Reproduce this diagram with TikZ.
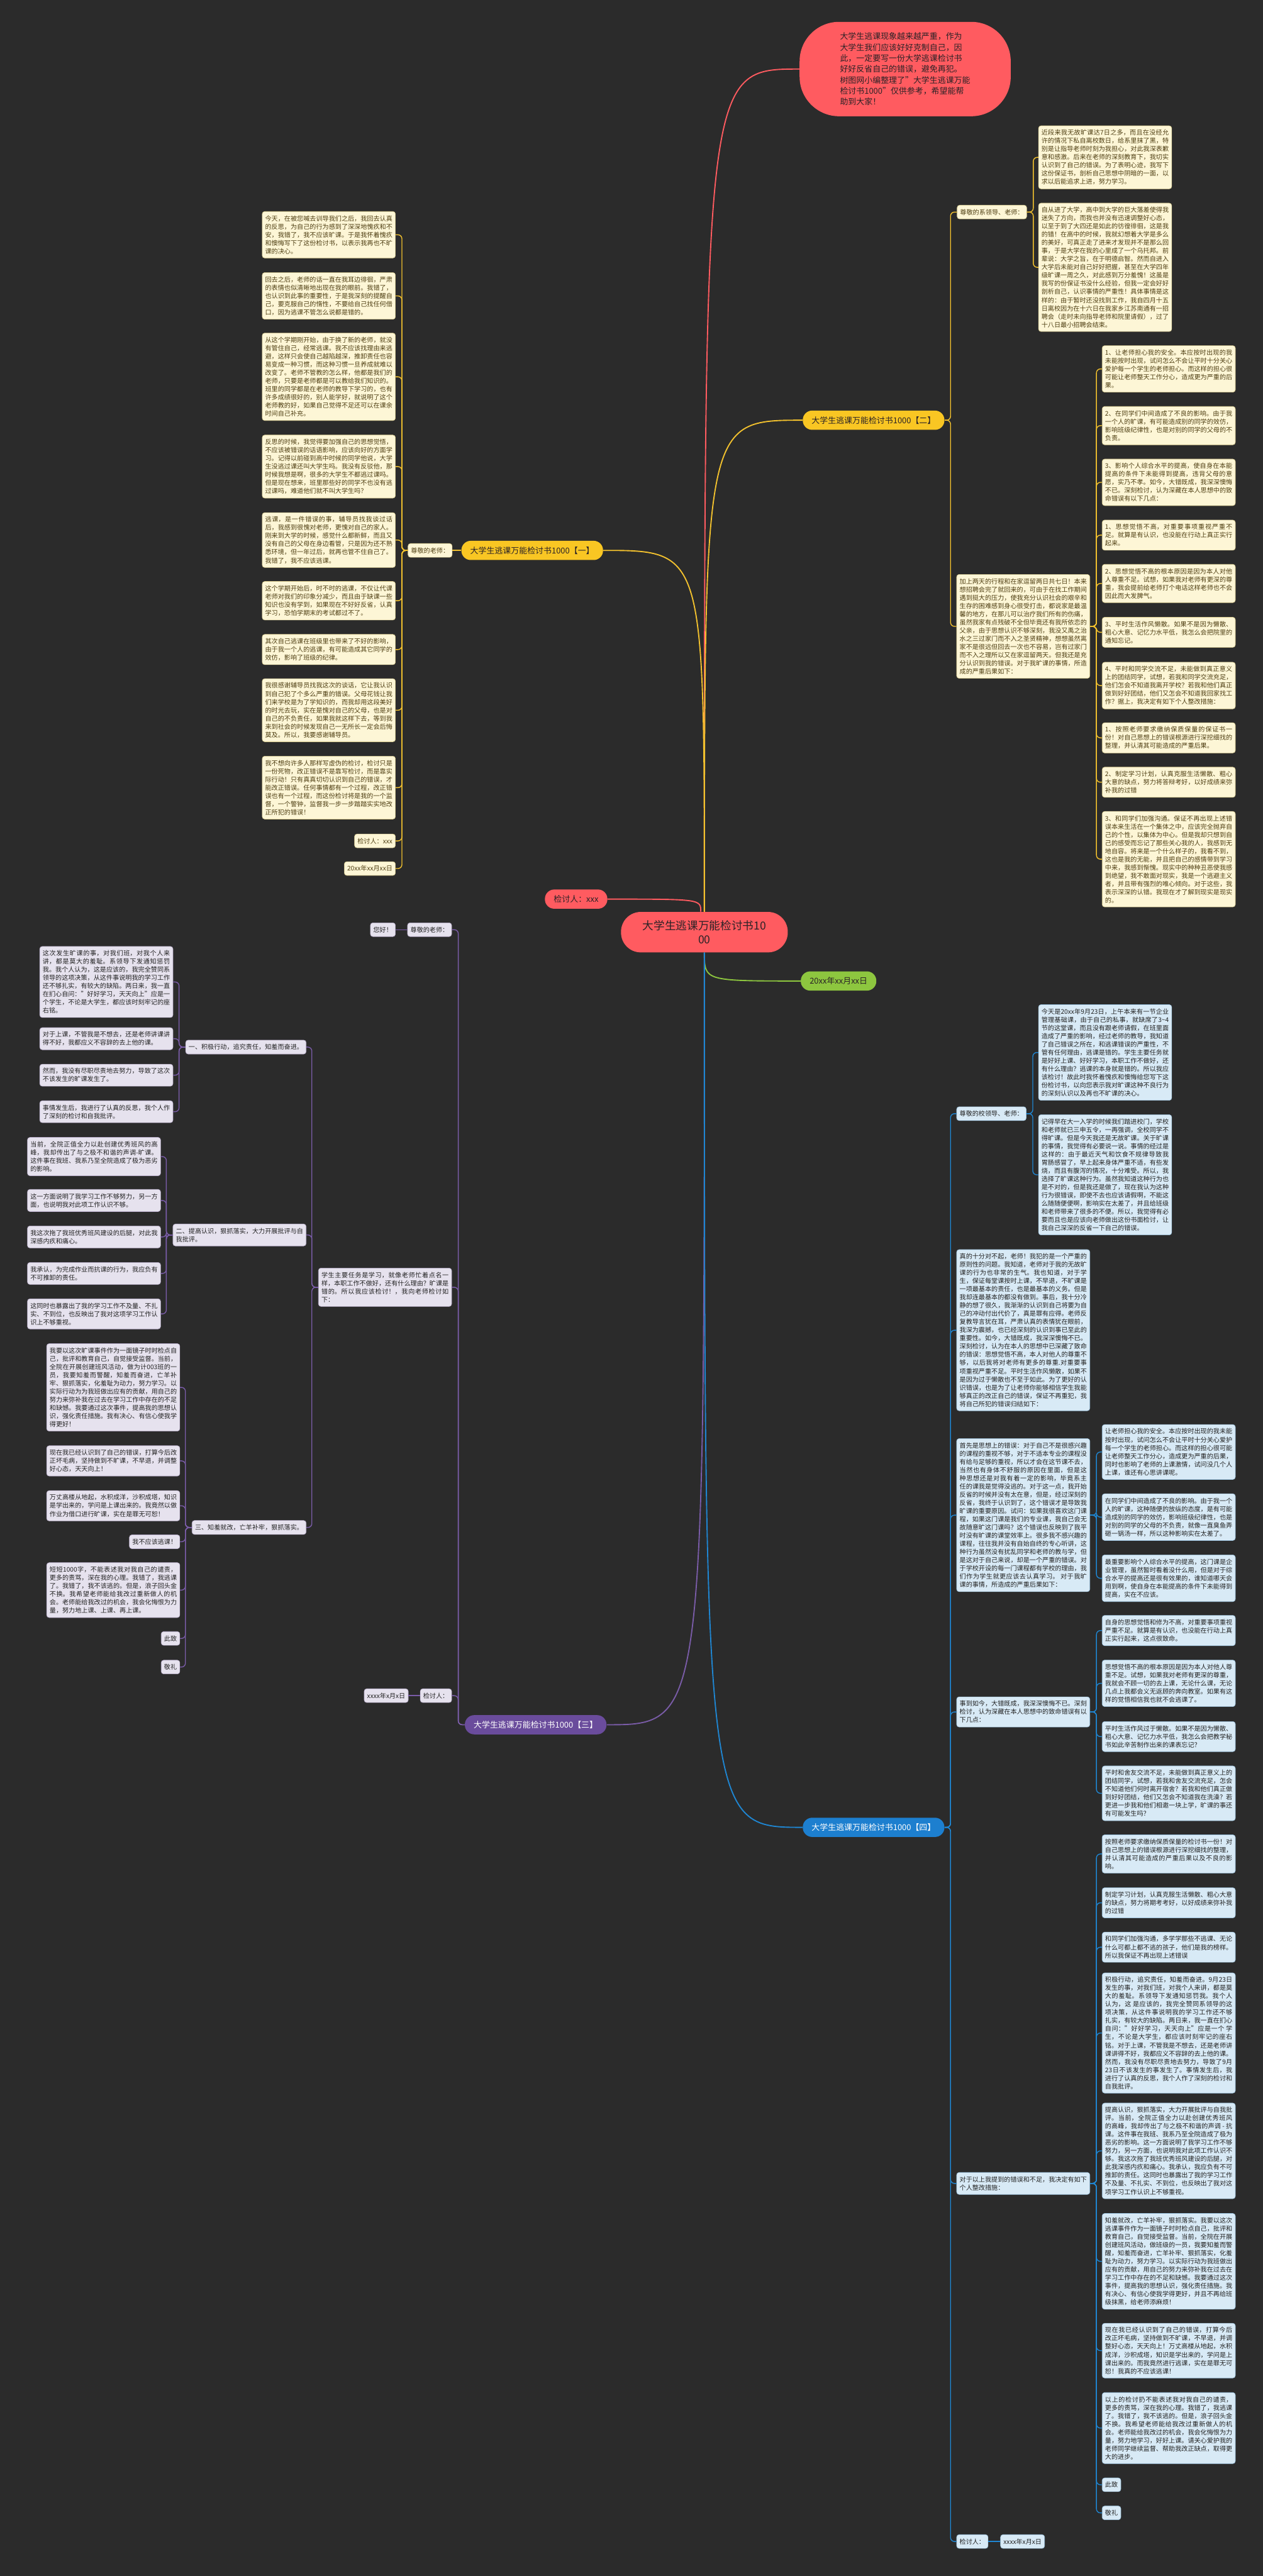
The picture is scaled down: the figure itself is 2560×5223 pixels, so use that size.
\documentclass[tikz,border=0pt]{standalone}
\usepackage{fontspec}
\setmainfont{Noto Sans CJK SC}
\XeTeXlinebreaklocale "zh"
\XeTeXlinebreakskip=0pt plus 1pt
\usetikzlibrary{positioning}

\definecolor{bg}{HTML}{2B2B2B}
\definecolor{darktext}{HTML}{2A2226}
\definecolor{browntext}{HTML}{4E3E12}
\definecolor{greytext}{HTML}{222222}
\definecolor{cream}{HTML}{FDF6D6}
\definecolor{creamedge}{HTML}{D9CB8E}
\definecolor{lav}{HTML}{E6E2EE}
\definecolor{lavedge}{HTML}{B9AECB}
\definecolor{skyb}{HTML}{D8EAF6}
\definecolor{skyedge}{HTML}{9CC3DF}
\definecolor{goldln}{HTML}{F2C12E}
\definecolor{purpln}{HTML}{7A5CA8}
\definecolor{blueln}{HTML}{1F86D2}
\definecolor{redp}{HTML}{FF5B60}
\definecolor{grnp}{HTML}{8DC63F}
\definecolor{yelp}{HTML}{F9C623}
\definecolor{purp}{HTML}{6A4C9C}
\definecolor{bluep}{HTML}{1D7FCF}

\tikzset{
  txt/.style={font=\fontsize{6.45pt}{8.3pt}\selectfont},
  box/.style={txt, rounded corners=2.5pt, inner xsep=3pt, inner ysep=4pt, line width=0.4pt},
  para/.style={box, text width=129pt, align=justify},
  ybox/.style={fill=cream, draw=creamedge, text=browntext},
  pbox/.style={fill=lav, draw=lavedge, text=greytext},
  bbox/.style={fill=skyb, draw=skyedge, text=greytext},
  pill/.style={font=\fontsize{8.25pt}{10pt}\selectfont, rounded corners=9.5pt,
    inner xsep=9pt, inner ysep=0pt, minimum height=19.5pt, text=darktext},
  mainln/.style={line width=1.2pt},
  subln/.style={line width=0.9pt, rounded corners=4pt},
}

\begin{document}
\begin{tikzpicture}[x=0.5pt,y=-0.5pt]
\useasboundingbox (0,0) rectangle (2560,5223);
\fill[bg] (0,0) rectangle (2560,5223);

% centre and first level
\node[fill=redp, text=darktext, rounded corners=20pt, minimum width=169pt, minimum height=41pt,
  align=center, font=\fontsize{11.25pt}{13.5pt}\selectfont] (ctr) at (1428,1890) {大学生逃课万能检讨书10\\00};
\node[fill=redp, text=darktext, rounded corners=40pt, inner xsep=41pt, inner ysep=11pt, text width=132pt,
  align=left, font=\fontsize{8.25pt}{11pt}\selectfont] (intro) at (1835,140)
  {大学生逃课现象越来越严重，作为\\大学生我们应该好好克制自己，因\\此，一定要写一份大学逃课检讨书\\好好反省自己的错误，避免再犯。\\树图网小编整理了"大学生逃课万能\\检讨书1000"仅供参考，希望能帮\\助到大家！};
\node[pill, fill=redp] (sig) at (1168,1823) {检讨人：xxx};
\node[pill, fill=grnp] (day) at (1700,1989) {20xx年xx月xx日};
\node[pill, fill=yelp, anchor=west] (b1) at (935,1116) {大学生逃课万能检讨书1000【一】};
\node[pill, fill=yelp, anchor=east] (b2) at (1915,852) {大学生逃课万能检讨书1000【二】};
\node[pill, fill=purp, text=white, anchor=west] (b3) at (942,3497) {大学生逃课万能检讨书1000【三】};
\node[pill, fill=bluep, text=white, anchor=east] (b4) at (1915,3705) {大学生逃课万能检讨书1000【四】};

\draw[mainln, redp] (ctr.north) .. controls (ctr.north |- intro.west) .. (intro.west);
\draw[mainln, redp] (ctr.100) .. controls (ctr.100 |- sig.east) .. (sig.east);
\draw[mainln, grnp] (ctr.south) .. controls (ctr.south |- day.west) .. (day.west);
\draw[mainln, goldln] (ctr.north) .. controls (ctr.north |- b1.east) .. (b1.east);
\draw[mainln, goldln] (ctr.north) .. controls (ctr.north |- b2.west) .. (b2.west);
\draw[mainln, purpln] (ctr.south) .. controls (ctr.south |- b3.east) .. (b3.east);
\draw[mainln, blueln] (ctr.south) .. controls (ctr.south |- b4.west) .. (b4.west);

% branch one
\node[box, ybox, anchor=east] (oneA) at (917,1116) {尊敬的老师：};
\node[para, ybox, anchor=east] (one1) at (802,476) {今天，在被您喊去训导我们之后，我回去认真的反思，为自己的行为感到了深深地愧疚和不安，我错了，我不应该旷课。于是我怀着愧疚和懊悔写下了这份检讨书，以表示我再也不旷课的决心。};
\node[para, ybox, anchor=east] (one2) at (802,600) {回去之后，老师的话一直在我耳边徘徊，严肃的表情也似清晰地出现在我的眼前。我错了，也认识到此事的重要性，于是我深刻的提醒自己，要克服自己的惰性，不要给自己找任何借口，因为逃课不管怎么说都是错的。};
\node[para, ybox, anchor=east] (one3) at (802,764) {从这个学期刚开始，由于换了新的老师，就没有管住自己，经常逃课。我不应该找理由来逃避，这样只会使自己越陷越深，推卸责任也容易变成一种习惯，而这种习惯一旦养成就难以改变了。老师不管教的怎么样，他都是我们的老师，只要是老师都是可以教给我们知识的。班里的同学都是在老师的教导下学习的，也有许多成绩很好的，别人能学好，就说明了这个老师教的好，如果自己觉得不足还可以在课余时间自己补充。};
\node[para, ybox, anchor=east] (one4) at (802,946) {反思的时候，我觉得要加强自己的思想觉悟，不应该被错误的话语影响，应该向好的方面学习。记得以前碰到高中时候的同学他说，大学生没逃过课还叫大学生吗。我没有反驳他，那时候我想是啊，很多的大学生不都逃过课吗。但是现在想来，班里那些好的同学不也没有逃过课吗，难道他们就不叫大学生吗？};
\node[para, ybox, anchor=east] (one5) at (802,1095) {逃课，是一件错误的事，辅导员找我谈过话后，我感到很愧对老师，更愧对自己的家人。刚来到大学的时候，感觉什么都新鲜，而且又没有自己的父母在身边看管，只是因为还不熟悉环境，但一年过后，就再也管不住自己了。我错了，我不应该逃课。};
\node[para, ybox, anchor=east] (one6) at (802,1218) {这个学期开始后，时不时的逃课，不仅让代课老师对我们的印象分减少，而且由于缺课一些知识也没有学到，如果现在不好好反省，认真学习，恐怕学期末的考试都过不了。};
\node[para, ybox, anchor=east] (one7) at (802,1317) {其次自己逃课在班级里也带来了不好的影响，由于我一个人的逃课，有可能造成其它同学的效仿，影响了班级的纪律。};
\node[para, ybox, anchor=east] (one8) at (802,1440) {我很感谢辅导员找我这次的谈话，它让我认识到自己犯了个多么严重的错误。父母花钱让我们来学校是为了学知识的，而我却用这段美好的时光去玩，实在是愧对自己的父母，也是对自己的不负责任，如果我就这样下去，等到我来到社会的时候发现自己一无所长一定会后悔莫及。所以，我要感谢辅导员。};
\node[para, ybox, anchor=east] (one9) at (802,1597) {我不想向许多人那样写虚伪的检讨，检讨只是一份死物，改正错误不是靠写检讨，而是靠实际行动！只有真真切切认识到自己的错误，才能改正错误。任何事情都有一个过程，改正错误也有一个过程，而这份检讨将是我的一个监督，一个警钟，监督我一步一步踏踏实实地改正所犯的错误！};
\node[box, ybox, anchor=east] (one10) at (802,1705) {检讨人：xxx};
\node[box, ybox, anchor=east] (one11) at (802,1761) {20xx年xx月xx日};
\draw[subln, goldln] (b1.west) -- (oneA.east);
\foreach \i in {1,...,11}
  \draw[subln, goldln] (oneA.west) -- ++(-12,0) |- (one\i.east);

% branch two
\node[box, ybox, anchor=west] (twoA) at (1940,430) {尊敬的系领导、老师：};
\node[para, ybox, anchor=west] (twoA1) at (2105,319) {近段来我无故旷课达7日之多，而且在没经允许的情况下私自离校数日，给系里抹了黑，特别是让指导老师时刻为我担心，对此我深表歉意和感激。后来在老师的深刻教育下，我切实认识到了自己的错误。为了表明心迹，我写下这份保证书，剖析自己思想中阴暗的一面，以求以后能追求上进，努力学习。};
\node[para, ybox, anchor=west] (twoA2) at (2105,542) {自从进了大学，高中到大学的巨大落差使得我迷失了方向，而我也并没有迅速调整好心态，以至于到了大四还是如此的彷徨徘徊，这是我的错！在高中的时候，我就幻想着大学是多么的美好，可真正走了进来才发现并不是那么回事，于是大学在我的心里成了一个乌托邦。前辈说：大学之旨，在于明德启智。然而自进入大学后未能对自己好好把握，甚至在大学四年级旷课一周之久，对此感到万分羞愧！这虽是我写的份保证书没什么经验，但我一定会好好剖析自己，认识事情的严重性！具体事情是这样的：由于暂时还没找到工作，我自四月十五日离校因为在十六日在我家乡江苏南通有一招聘会（走时未向指导老师和院里请假），过了十八日最小招聘会结束。};
\node[para, ybox, anchor=west] (twoB) at (1939,1270) {加上两天的行程和在家逗留两日共七日！本来想招聘会完了就回来的，可由于在找工作期间遇到挺大的压力，使我充分认识社会的艰辛和生存的困难感到身心很受打击，都说家是最温馨的地方，在那儿可以治疗我们所有的伤痛，虽然我家有点残破不全但毕竟还有我所依恋的父亲，由于思想认识不够深刻，我没又禹之治水之三过家门而不入之圣贤精神，想想虽然离家不是很远但回去一次也不容易，岂有过家门而不入之理所以又在家逗留两天。但我还是充分认识到我的错误。对于我旷课的事情，所造成的严重后果如下：};
\node[para, ybox, anchor=west] (twoB1) at (2234,748) {1、让老师担心我的安全。本应按时出现的我未能按时出现，试问怎么不会让平时十分关心爱护每一个学生的老师担心。而这样的担心很可能让老师整天工作分心，造成更为严重的后果。};
\node[para, ybox, anchor=west] (twoB2) at (2234,863) {2、在同学们中间造成了不良的影响。由于我一个人的旷课，有可能造成别的同学的效仿，影响班级纪律性，也是对别的同学的父母的不负责。};
\node[para, ybox, anchor=west] (twoB3) at (2234,978) {3、影响个人综合水平的提高，使自身在本能提高的条件下未能得到提高，违背父母的意愿，实乃不孝。如今，大错既成，我深深懊悔不已。深刻检讨，认为深藏在本人思想中的致命错误有以下几点：};
\node[para, ybox, anchor=west] (twoB4) at (2234,1085) {1、思想觉悟不高，对重要事项重视严重不足。就算是有认识，也没能在行动上真正实行起来。};
\node[para, ybox, anchor=west] (twoB5) at (2234,1183) {2、思想觉悟不高的根本原因是因为本人对他人尊重不足。试想，如果我对老师有更深的尊重，我会提前给老师打个电话这样老师也不会因此而大发脾气。};
\node[para, ybox, anchor=west] (twoB6) at (2234,1282) {3、平时生活作风懒散。如果不是因为懒散、粗心大意、记忆力水平低，我怎么会把院里的通知忘记。};
\node[para, ybox, anchor=west] (twoB7) at (2234,1390) {4、平时和同学交流不足，未能做到真正意义上的团结同学，试想，若我和同学交流充足，他们怎会不知道我离开学校？若我和他们真正做到好好团结，他们又怎会不知道我回家找工作？据上，我决定有如下个人整改措施：};
\node[para, ybox, anchor=west] (twoB8) at (2234,1496) {1、按照老师要求缴纳保质保量的保证书一份！对自己思想上的错误根源进行深挖细找的整理，并认清其可能造成的严重后果。};
\node[para, ybox, anchor=west] (twoB9) at (2234,1586) {2、制定学习计划，认真克服生活懒散、粗心大意的缺点，努力将答辩考好，以好成绩来弥补我的过错};
\node[para, ybox, anchor=west] (twoB10) at (2234,1742) {3、和同学们加强沟通。保证不再出现上述错误本来生活在一个集体之中，应该完全抛弃自己的个性，以集体为中心。但是我却只想到自己的感受而忘记了那些关心我的人，我感到无地自容。将来是一个什么样子的，我看不到，这也是我的无能，并且把自己的感情带到学习中来，我感到惭愧。现实中的种种丑恶使我感到绝望，我不敢面对现实，我是一个逃避主义者，并且带有强烈的唯心倾向。对于这些，我表示深深的认错。我现在才了解到现实是现实的。};
\foreach \c in {twoA,twoB}
  \draw[subln, goldln] (b2.east) -- ++(12,0) |- (\c.west);
\foreach \i in {1,2}
  \draw[subln, goldln] (twoA.east) -- ++(13,0) |- (twoA\i.west);
\foreach \i in {1,...,10}
  \draw[subln, goldln] (twoB.east) -- ++(13,0) |- (twoB\i.west);

% branch three
\node[box, pbox, anchor=east] (thrA) at (916,1885) {尊敬的老师：};
\node[box, pbox, anchor=east] (thrA1) at (802,1885) {您好！};
\node[para, pbox, anchor=east] (thrB) at (916,2610) {学生主要任务是学习，就像老师忙着点名一样，本职工作不做好，还有什么理由？旷课是错的。所以我应该检讨！，我向老师检讨如下：};
\node[box, pbox, anchor=east] (thrB1) at (621,2123) {一、积极行动，追究责任，知羞而奋进。};
\node[para, pbox, anchor=east] (thrB1a) at (351,1991) {这次发生旷课的事，对我们班，对我个人来讲，都是莫大的羞耻。系领导下发通知惩罚我。我个人认为，这是应该的，我完全赞同系领导的这项决策，从这件事说明我的学习工作还不够扎实，有较大的缺陷。两日来，我一直在扪心自问："好好学习，天天向上"应是一个学生，不论是大学生，都应该时刻牢记的座右铭。};
\node[para, pbox, anchor=east] (thrB1b) at (351,2106) {对于上课，不管我是不想去，还是老师讲课讲得不好，我都应义不容辞的去上他的课。};
\node[para, pbox, anchor=east] (thrB1c) at (351,2180) {然而，我没有尽职尽责地去努力，导致了这次不该发生的旷课发生了。};
\node[para, pbox, anchor=east] (thrB1d) at (351,2254) {事情发生后，我进行了认真的反思，我个人作了深刻的检讨和自我批评。};
\node[para, pbox, anchor=east] (thrB2) at (621,2504) {二、提高认识，狠抓落实，大力开展批评与自我批评。};
\node[para, pbox, anchor=east] (thrB2a) at (326,2345) {当前，全院正值全力以赴创建优秀班风的高峰，我却传出了与之极不和谐的声调-旷课。这件事在我班、我系乃至全院造成了极为恶劣的影响。};
\node[para, pbox, anchor=east] (thrB2b) at (326,2434) {这一方面说明了我学习工作不够努力，另一方面，也说明我对此项工作认识不够。};
\node[para, pbox, anchor=east] (thrB2c) at (326,2508) {我这次拖了我班优秀班风建设的后腿，对此我深感内疚和痛心。};
\node[para, pbox, anchor=east] (thrB2d) at (326,2582) {我承认，为完成作业而抗课的行为，我应负有不可推卸的责任。};
\node[para, pbox, anchor=east] (thrB2e) at (326,2664) {这同时也暴露出了我的学习工作不及量、不扎实、不到位，也反映出了我对这项学习工作认识上不够重视。};
\node[box, pbox, anchor=east] (thrB3) at (621,3097) {三、知羞就改，亡羊补牢，狠抓落实。};
\node[para, pbox, anchor=east] (thrB3a) at (365,2813) {我要以这次旷课事件作为一面镜子时时检点自己，批评和教育自己，自觉接受监督。当前，全院在开展创建班风活动，做为计003班的一员，我要知羞而警醒，知羞而奋进，亡羊补牢、狠抓落实，化羞耻为动力，努力学习。以实际行动为为我班做出应有的贡献，用自己的努力来弥补我在过去在学习工作中存在的不足和缺憾。我要通过这次事件，提高我的思想认识，强化责任措施。我有决心、有信心使我学得更好！};
\node[para, pbox, anchor=east] (thrB3b) at (365,2962) {现在我已经认识到了自己的错误，打算今后改正坏毛病，坚持做到不旷课，不早退，并调整好心态，天天向上！};
\node[para, pbox, anchor=east] (thrB3c) at (365,3053) {万丈高楼从地起，水积成洋，沙积成塔，知识是学出来的，学问是上课出来的。我竟然以做作业为借口进行旷课，实在是罪无可恕！};
\node[box, pbox, anchor=east] (thrB3d) at (365,3126) {我不应该逃课！};
\node[para, pbox, anchor=east] (thrB3e) at (365,3224) {短短1000字，不能表述我对我自己的谴责，更多的责骂，深在我的心理。我错了，我逃课了。我错了，我不该逃的。但是，浪子回头金不换。我希望老师能给我改过重新做人的机会。老师能给我改过的机会，我会化悔恨为力量，努力地上课、上课、再上课。};
\node[box, pbox, anchor=east] (thrB3f) at (365,3322) {此致};
\node[box, pbox, anchor=east] (thrB3g) at (365,3380) {敬礼};
\node[box, pbox, anchor=east] (thrC) at (916,3438) {检讨人：};
\node[box, pbox, anchor=east] (thrC1) at (828,3438) {xxxx年x月x日};
\foreach \c in {thrA,thrB,thrC}
  \draw[subln, purpln] (b3.west) -- ++(-13,0) |- (\c.east);
\draw[subln, purpln] (thrA.west) -- (thrA1.east);
\draw[subln, purpln] (thrC.west) -- (thrC1.east);
\foreach \c in {thrB1,thrB2,thrB3}
  \draw[subln, purpln] (thrB.west) -- ++(-13,0) |- (\c.east);
\foreach \c in {a,b,c,d}
  \draw[subln, purpln] (thrB1.west) -- ++(-13,0) |- (thrB1\c.east);
\foreach \c in {a,b,c,d,e}
  \draw[subln, purpln] (thrB2.west) -- ++(-13,0) |- (thrB2\c.east);
\foreach \c in {a,b,c,d,e,f,g}
  \draw[subln, purpln] (thrB3.west) -- ++(-13,0) |- (thrB3\c.east);

% branch four
\node[box, bbox, anchor=west] (fouA) at (1939,2258) {尊敬的校领导、老师：};
\node[para, bbox, anchor=west] (fouA1) at (2105,2134) {今天是20xx年9月23日，上午本来有一节企业管理基础课，由于自己的私事，就缺席了3\textasciitilde4节的这堂课，而且没有跟老师请假，在班里面造成了严重的影响，经过老师的教导，我知道了自己错误之所在，和逃课错误的严重性，不管有任何理由，逃课是错的。学生主要任务就是好好上课、好好学习，本职工作不做好，还有什么理由？逃课的本身就是错的。所以我应该检讨！故此时我怀着愧疚和懊悔给您写下这份检讨书，以向您表示我对旷课这种不良行为的深刻认识以及再也不旷课的决心。};
\node[para, bbox, anchor=west] (fouA2) at (2105,2382) {记得早在大一入学的时候我们踏进校门，学校和老师就已三申五令，一再强调，全校同学不得旷课。但是今天我还是无故旷课。关于旷课的事情，我觉得有必要说一说。事情的经过是这样的：由于最近天气和饮食不规律导致我胃肠感冒了，早上起来身体严重不适，有些发烧，而且有腹泻的情况，十分难受。所以，我选择了旷课这种行为。虽然我知道这种行为也是不对的，但是我还是做了，现在我认为这种行为很错误，即使不去也应该请假啊，不能这么随随便便啊，影响实在太差了，并且给班级和老师带来了很多的不便。所以，我觉得有必要而且也是应该向老师做出这份书面检讨，让我自己深深的反省一下自己的错误。};
\node[para, bbox, anchor=west] (fouB) at (1939,2697) {真的十分对不起，老师！我犯的是一个严重的原则性的问题。我知道，老师对于我的无故旷课的行为也非常的生气。我也知道，对于学生，保证每堂课按时上课，不早退，不旷课是一项最基本的责任，也是最基本的义务。但是我却连最基本的都没有做到。事后，我十分冷静的想了很久，我渐渐的认识到自己将要为自己的冲动付出代价了，真是罪有应得。老师反复教导言犹在耳，严肃认真的表情犹在眼前，我深为震撼，也已经深刻的认识到事已至此的重要性。如今，大错既成，我深深懊悔不已。深刻检讨，认为在本人的思想中已深藏了致命的错误：思想觉悟不高，本人对他人的尊重不够，以后我将对老师有更多的尊重.对重要事项重视严重不足。平时生活作风懒散，如果不是因为过于懒散也不至于如此。为了更好的认识错误，也是为了让老师你能够相信学生我能够真正的改正自己的错误，保证不再重犯，我将自己所犯的错误归结如下：};
\node[para, bbox, anchor=west] (fouC) at (1939,3072) {首先是思想上的错误：对于自己不是很感兴趣的课程的重视不够，对于不适本专业的课程没有给与足够的重视，所以才会在这节课不去，当然也有身体不舒服的原因在里面，但是这种思想还是对我有着一定的影响，毕竟系主任的课我是觉得没逃的。对于这一点，我开始反省的时候并没有太在意，但是，经过深刻的反省，我终于认识到了，这个错误才是导致我旷课的重要原因。试问：如果我很喜欢这门课程，如果这门课是我们的专业课，我自己会无故随意旷这门课吗？这个错误也反映到了我平时没有旷课的课堂效率上。很多我不感兴趣的课程，往往我并没有自始自终的专心听讲，这种行为虽然没有扰乱同学和老师的教与学，但是这对于自己来说，却是一个严重的错误。对于学校开设的每一门课程都有学校的理由，我们作为学生就更应该去认真学习。 对于我旷课的事情，所造成的严重后果如下：};
\node[para, bbox, anchor=west] (fouC1) at (2234,2944) {让老师担心我的安全。本应按时出现的我未能按时出现，试问怎么不会让平时十分关心爱护每一个学生的老师担心。而这样的担心很可能让老师整天工作分心，造成更为严重的后果，同时也影响了老师的上课激情，试问没几个人上课，谁还有心思讲课呢。};
\node[para, bbox, anchor=west] (fouC2) at (2234,3076) {在同学们中间造成了不良的影响。由于我一个人的旷课，这种随便的放纵的态度，是有可能造成别的同学的效仿，影响班级纪律性，也是对别的同学的父母的不负责，就像一直臭鱼弄砸一锅汤一样，所以这种影响实在太差了。};
\node[para, bbox, anchor=west] (fouC3) at (2234,3200) {最重要影响个人综合水平的提高，这门课是企业管理，虽然暂时看着没什么用，但是对于综合水平的提高还是很有效果的，谁知道哪天会用到啊，使自身在本能提高的条件下未能得到提高，实在不应该。};
\node[para, bbox, anchor=west] (fouD) at (1939,3471) {事到如今，大错既成，我深深懊悔不已。深刻检讨，认为深藏在本人思想中的致命错误有以下几点：};
\node[para, bbox, anchor=west] (fouD1) at (2234,3306) {自身的思想觉悟和修为不高，对重要事项重视严重不足。就算是有认识，也没能在行动上真正实行起来，这点很致命。};
\node[para, bbox, anchor=west] (fouD2) at (2234,3413) {思想觉悟不高的根本原因是因为本人对他人尊重不足。试想，如果我对老师有更深的尊重，我就会不顾一切的去上课，无论什么课，无论几点上我都会义无返顾的奔向教室。如果有这样的觉悟相信我也就不会逃课了。};
\node[para, bbox, anchor=west] (fouD3) at (2234,3521) {平时生活作风过于懒散。如果不是因为懒散、粗心大意、记忆力水平低，我怎么会把教学秘书如此辛苦制作出来的课表忘记？};
\node[para, bbox, anchor=west] (fouD4) at (2234,3636) {平时和舍友交流不足，未能做到真正意义上的团结同学，试想，若我和舍友交流充足，怎会不知道他们何时离开宿舍？若我和他们真正做到好好团结，他们又怎会不知道我在洗澡？若更进一步我和他们相邀一块上学，旷课的事还有可能发生吗？};
\node[para, bbox, anchor=west] (fouE) at (1939,4427) {对于以上我提到的错误和不足，我决定有如下个人整改措施：};
\node[para, bbox, anchor=west] (fouE1) at (2234,3759) {按照老师要求缴纳保质保量的检讨书一份！对自己思想上的错误根源进行深挖细找的整理，并认清其可能造成的严重后果以及不良的影响。};
\node[para, bbox, anchor=west] (fouE2) at (2234,3858) {制定学习计划，认真克服生活懒散、粗心大意的缺点，努力将期考考好，以好成绩来弥补我的过错};
\node[para, bbox, anchor=west] (fouE3) at (2234,3948) {和同学们加强沟通，多学学那些不逃课、无论什么可都上都不逃的孩子，他们是我的榜样。所以我保证不再出现上述错误};
\node[para, bbox, anchor=west] (fouE4) at (2234,4122) {积极行动，追究责任，知羞而奋进。9月23日发生的事，对我们班，对我个人来讲，都是莫大的羞耻。系领导下发通知惩罚我。我个人认为，这 是应该的，我完全赞同系领导的这项决策，从这件事说明我的学习工作还不够扎实，有较大的缺陷。两日来，我一直在扪心自问："好好学习，天天向上"应是一个 学生，不论是大学生，都应该时刻牢记的座右铭。对于上课，不管我是不想去，还是老师讲课讲得不好，我都应义不容辞的去上他的课。然而，我没有尽职尽责地去努力，导致了9月23日不该发生的事发生了。事情发生后，我进行了认真的反思，我个人作了深刻的检讨和自我批评。};
\node[para, bbox, anchor=west] (fouE5) at (2234,4361) {提高认识，狠抓落实，大力开展批评与自我批评。当前，全院正值全力以赴创建优秀班风的高峰，我却传出了与之极不和谐的声调 - 抗课。这件事在我班、我系乃至全院造成了极为恶劣的影响。这一方面说明了我学习工作不够努力，另一方面，也说明我对此项工作认识不够。我这次拖了我班优秀班风建设的后腿，对此我深感内疚和痛心。我承认，我应负有不可推卸的责任。这同时也暴露出了我的学习工作不及量、不扎实、不到位，也反映出了我对这项学习工作认识上不够重视。};
\node[para, bbox, anchor=west] (fouE6) at (2234,4585) {知羞就改，亡羊补牢，狠抓落实。我要以这次逃课事件作为一面镜子时时检点自己，批评和教育自己，自觉接受监督。当前，全院在开展创建班风活动，做班级的一员，我要知羞而警醒，知羞而奋进，亡羊补牢、狠抓落实，化羞耻为动力，努力学习。以实际行动为我班做出应有的贡献，用自己的努力来弥补我在过去在学习工作中存在的不足和缺憾。我要通过这次事件，提高我的思想认识，强化责任措施。我有决心、有信心使我学得更好，并且不再给班级抹黑，给老师添麻烦！};
\node[para, bbox, anchor=west] (fouE7) at (2234,4766) {现在我已经认识到了自己的错误，打算今后改正坏毛病，坚持做到不旷课，不早退，并调整好心态，天天向上！万丈高楼从地起，水积成洋，沙积成塔，知识是学出来的，学问是上课出来的。而我竟然进行逃课，实在是罪无可恕！我真的不应该逃课！};
\node[para, bbox, anchor=west] (fouE8) at (2234,4923) {以上的检讨扔不能表述我对我自己的谴责，更多的责骂，深在我的心理。我错了，我逃课了。我错了，我不该逃的。但是，浪子回头金不换。我希望老师能给我改过重新做人的机会。老师能给我改过的机会，我会化悔恨为力量，努力地学习，好好上课。请关心爱护我的老师同学继续监督、帮助我改正缺点，取得更大的进步。};
\node[box, bbox, anchor=west] (fouE9) at (2234,5038) {此致};
\node[box, bbox, anchor=west] (fouE10) at (2234,5095) {敬礼};
\node[box, bbox, anchor=west] (fouF) at (1939,5153) {检讨人：};
\node[box, bbox, anchor=west] (fouF1) at (2028,5153) {xxxx年x月x日};
\foreach \c in {fouA,fouB,fouC,fouD,fouE,fouF}
  \draw[subln, blueln] (b4.east) -- ++(12,0) |- (\c.west);
\foreach \i in {1,2}
  \draw[subln, blueln] (fouA.east) -- ++(13,0) |- (fouA\i.west);
\foreach \i in {1,2,3}
  \draw[subln, blueln] (fouC.east) -- ++(13,0) |- (fouC\i.west);
\foreach \i in {1,...,4}
  \draw[subln, blueln] (fouD.east) -- ++(13,0) |- (fouD\i.west);
\foreach \i in {1,...,10}
  \draw[subln, blueln] (fouE.east) -- ++(13,0) |- (fouE\i.west);
\draw[subln, blueln] (fouF.east) -- (fouF1.west);
\end{tikzpicture}
\end{document}
